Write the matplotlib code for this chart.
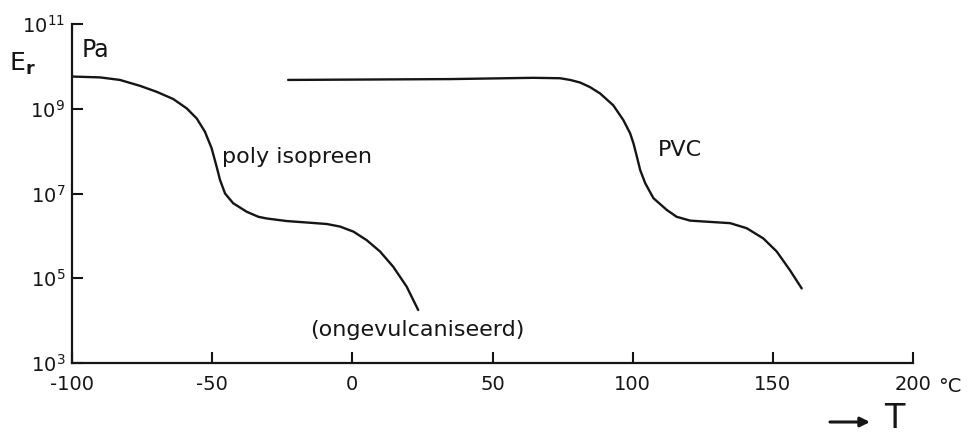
import numpy as np
import matplotlib
matplotlib.use("Agg")
import matplotlib.pyplot as plt

# --- data (T in degC, log10 of E_r in Pa) ---
pi_T = [-100, -90.0, -82.9, -75.7, -69.8, -63.9, -59.1, -55.5, -52.6, -50.2,
        -48.4, -47.2, -45.4, -42.5, -37.7, -33.5, -30.5, -23.4, -15.1, -9.1,
        -4.4, 0.4, 5.1, 9.9, 14.6, 19.4, 23.5]
pi_logE = [9.76, 9.74, 9.68, 9.54, 9.40, 9.23, 9.01, 8.77, 8.46, 8.07,
           7.63, 7.32, 7.00, 6.77, 6.57, 6.45, 6.41, 6.35, 6.31, 6.28,
           6.22, 6.10, 5.90, 5.63, 5.27, 4.80, 4.25]

pvc_T = [-22.9, 34.9, 64.5, 74.1, 77.7, 81.2, 84.8, 88.4, 93.1, 96.7,
         99.1, 100.3, 101.5, 102.7, 104.5, 107.4, 112.2, 115.7, 120.5, 127.6,
         134.8, 140.7, 146.6, 151.4, 156.1, 160.3]
pvc_logE = [9.68, 9.70, 9.73, 9.72, 9.68, 9.62, 9.51, 9.36, 9.08, 8.73,
            8.42, 8.18, 7.87, 7.55, 7.24, 6.89, 6.61, 6.45, 6.36, 6.33,
            6.30, 6.18, 5.94, 5.63, 5.19, 4.76]

x_ticks = [-100, -50, 0, 50, 100, 150, 200]
x_labels = ['-100', '-50', '0', '50', '100', '150', '200']
y_ticks = [1e3, 1e5, 1e7, 1e9, 1e11]
y_labels = [r'$10^3$', r'$10^5$', r'$10^7$', r'$10^9$', r'$10^{11}$']

INK = '#151515'

plt.rcParams['font.family'] = 'DejaVu Sans'
plt.rcParams['mathtext.default'] = 'regular'

fig = plt.figure(figsize=(9.69, 4.36), dpi=100)
ax = fig.add_axes([72 / 969, 1 - 363 / 436, 841 / 969, 339 / 436])

ax.plot(pi_T, 10 ** np.array(pi_logE), color=INK, lw=1.7,
        solid_capstyle='round', solid_joinstyle='round')
ax.plot(pvc_T, 10 ** np.array(pvc_logE), color=INK, lw=1.7,
        solid_capstyle='round', solid_joinstyle='round')

ax.set_yscale('log')
ax.set_xlim(-100, 200)
ax.set_ylim(1e3, 1e11)
ax.set_xticks(x_ticks)
ax.set_xticklabels(x_labels)
ax.set_yticks(y_ticks)
ax.set_yticklabels(y_labels)
ax.minorticks_off()

for side in ['top', 'right']:
    ax.spines[side].set_visible(False)
for side in ['left', 'bottom']:
    ax.spines[side].set_linewidth(1.6)
    ax.spines[side].set_color(INK)

ax.tick_params(axis='x', direction='in', length=8, width=1.5, pad=9,
               labelsize=14, colors=INK)
ax.tick_params(axis='y', direction='in', length=8, width=1.5, pad=5,
               labelsize=14, colors=INK)

# curve labels
ax.text(-46.5, 10 ** 7.86, 'poly isopreen', fontsize=16, color=INK,
        ha='left', va='center')
ax.text(-15.1, 10 ** 3.78, '(ongevulcaniseerd)', fontsize=16, color=INK,
        ha='left', va='center')
ax.text(109.1, 10 ** 8.03, 'PVC', fontsize=16, color=INK,
        ha='left', va='center')
ax.text(0.012, 0.923, 'Pa', transform=ax.transAxes, fontsize=17, color=INK,
        ha='left', va='center')

# axis labels
fig.text(9 / 969, 1 - 64 / 436, r'E$_{\mathbf{r}}$', fontsize=18, color=INK,
         ha='left', va='center')
fig.text(950 / 969, 1 - 387 / 436, '°C', fontsize=14, color=INK,
         ha='center', va='center')
ax.annotate('', xy=(870, 436 - 422), xytext=(830, 436 - 422),
            xycoords='figure pixels', textcoords='figure pixels',
            arrowprops=dict(arrowstyle='-|>', lw=2.2, color=INK,
                            mutation_scale=14, shrinkA=0, shrinkB=0))
fig.text(894 / 969, 1 - 418 / 436, 'T', fontsize=24, color=INK,
         ha='center', va='center')

fig.savefig('out.png', dpi=100, facecolor='white')
